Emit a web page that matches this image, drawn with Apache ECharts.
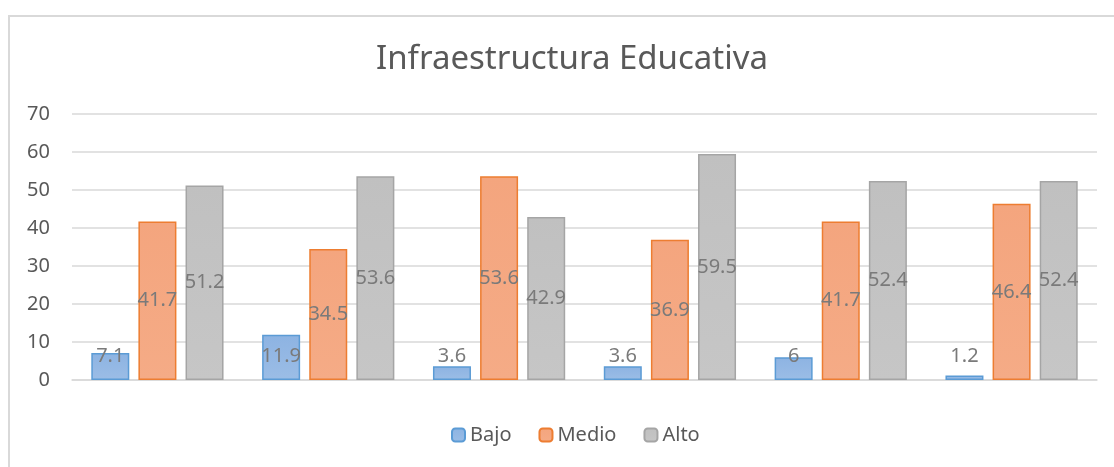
<!DOCTYPE html>
<html>
<head>
<meta charset="utf-8">
<script src="https://cdn.jsdelivr.net/npm/echarts@6/dist/echarts.min.js"></script>
<style>
html,body{margin:0;padding:0;background:#fff;}
#frame{position:absolute;left:8px;top:15px;width:1200px;height:600px;border-left:2px solid #d9d9d9;border-top:2px solid #d9d9d9;}
#chart{position:absolute;left:0;top:0;width:1114px;height:467px;}
</style>
</head>
<body>
<div id="frame"></div>
<div id="chart"></div>
<script>
const title = 'Infraestructura Educativa';
const categories = ['1', '2', '3', '4', '5', '6'];
const bajo = [7.1, 11.9, 3.6, 3.6, 6, 1.2];
const medio = [41.7, 34.5, 53.6, 36.9, 41.7, 46.4];
const alto = [51.2, 53.6, 42.9, 59.5, 52.4, 52.4];
const yTicks = { min: 0, max: 70, interval: 10 };

const FONT = '"Noto Sans", "Open Sans", sans-serif';
function grad(top, bottom) {
  return new echarts.graphic.LinearGradient(0, 0, 0, 1, [
    { offset: 0, color: top }, { offset: 1, color: bottom }
  ]);
}
function labelLayout(p) {
  const r = p.rect;
  const cy = r.y + r.height / 2;
  const bottom = r.y + r.height;
  return { x: r.x + r.width / 2, y: Math.min(cy, bottom - 24), align: 'center', verticalAlign: 'middle' };
}
const labelStyle = { show: true, position: 'inside', color: '#7a7a7a', fontSize: 20, fontFamily: FONT };

function mk(name, data, fillTop, fillBot, border) {
  return {
    name, type: 'bar', data,
    barWidth: 38, barGap: '24%',
    itemStyle: { color: grad(fillTop, fillBot), borderColor: border, borderWidth: 1.5 },
    label: labelStyle,
    labelLayout,
    emphasis: { disabled: true }
  };
}

const chart = echarts.init(document.getElementById('chart'), null, { renderer: 'canvas' });
chart.setOption({
  animation: false,
  title: {
    text: title, left: 371, top: 38,
    textStyle: { fontFamily: FONT, fontSize: 33, fontWeight: 'normal', color: '#595959' }
  },
  grid: { left: 72, right: 17, top: 114, bottom: 87, containLabel: false },
  legend: {
    bottom: 17, left: 446, itemWidth: 13, itemHeight: 13, itemGap: 27,
    textStyle: { fontFamily: FONT, fontSize: 20, color: '#595959', padding: [0, 0, 0, 0] },
    data: ['Bajo', 'Medio', 'Alto']
  },
  xAxis: {
    type: 'category', data: categories,
    axisLine: { show: true, lineStyle: { color: '#d9d9d9', width: 1.5 } },
    axisTick: { show: false }, axisLabel: { show: false }
  },
  yAxis: {
    type: 'value', min: yTicks.min, max: yTicks.max, interval: yTicks.interval,
    axisLine: { show: false }, axisTick: { show: false },
    axisLabel: { fontFamily: FONT, fontSize: 20, color: '#595959', margin: 22 },
    splitLine: { lineStyle: { color: '#d9d9d9', width: 1.5 } }
  },
  series: [
    mk('Bajo', bajo, '#8db3e2', '#9bbde6', '#5b9bd5'),
    mk('Medio', medio, '#f4a57e', '#f5ab86', '#ed7d31'),
    mk('Alto', alto, '#c0c0c0', '#c6c6c6', '#a5a5a5')
  ]
});
</script>
</body>
</html>
